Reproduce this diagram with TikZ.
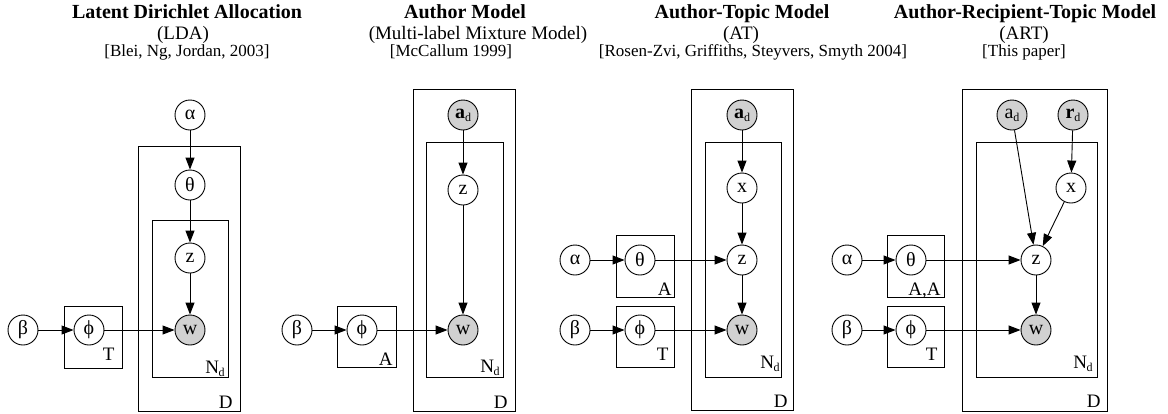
\documentclass[tikz,border=0pt]{standalone}
\usepackage{fontspec}
\setmainfont{Liberation Serif}
\usetikzlibrary{arrows.meta}
\newcommand{\subd}{\raisebox{-3pt}{\fontsize{12}{12}\selectfont d}}

\begin{document}
\begin{tikzpicture}[x=1pt,y=-1pt,line width=0.9pt,
    var/.style={circle,draw,minimum size=30pt,inner sep=0pt,font=\fontsize{20}{20}\selectfont},
    obs/.style={var,fill=black!18},
    lab/.style={anchor=base east,inner sep=0pt,font=\fontsize{19}{19}\selectfont},
    edge/.style={-{Triangle[length=12pt,width=9pt]}},
    headline/.style={anchor=base,inner sep=0pt,font=\bfseries\fontsize{20}{20}\selectfont},
    abbrev/.style={anchor=base,inner sep=0pt,font=\fontsize{19}{19}\selectfont},
    cite/.style={anchor=base,inner sep=0pt,font=\fontsize{17}{17}\selectfont}]
  \useasboundingbox (0,0) rectangle (1168,413);

  % titles
  \node[headline] at (187,18) {Latent Dirichlet Allocation};
  \node[abbrev] at (183,39) {(LDA)};
  \node[cite] at (187,56) {[Blei, Ng, Jordan, 2003]};
  \node[headline] at (465,18) {Author Model};
  \node[abbrev] at (478,39) {(Multi-label Mixture Model)};
  \node[cite] at (451,56) {[McCallum 1999]};
  \node[headline] at (742,18) {Author-Topic Model};
  \node[abbrev] at (741,39) {(AT)};
  \node[cite] at (753,56) {[Rosen-Zvi, Griffiths, Steyvers, Smyth 2004]};
  \node[headline] at (1025,18) {Author-Recipient-Topic Model};
  \node[abbrev] at (1024,39) {(ART)};
  \node[cite] at (1024,56) {[This paper]};

  % LDA
  \draw (64,306) rectangle (122,368);
  \draw (138,146) rectangle (240,411.5);
  \draw (152,220) rectangle (228,377);
  \node[lab] at (115,360) {T};
  \node[lab] at (225,373) {N\kern-0.5pt\subd};
  \node[lab] at (233,408) {D};
  \node[var] (lalpha) at (190,115) {α};
  \node[var] (ltheta) at (190,185) {θ};
  \node[var] (lz) at (190,258) {z};
  \node[obs] (lw) at (190,330) {w};
  \node[var] (lbeta) at (23,330) {β};
  \node[var] (lphi) at (89,330) {ϕ};
  \draw[edge] (lalpha) -- (ltheta);
  \draw[edge] (ltheta) -- (lz);
  \draw[edge] (lz) -- (lw);
  \draw[edge] (lbeta) -- (lphi);
  \draw[edge] (lphi) -- (lw);

  % Author Model
  \draw (337,306) rectangle (396,367);
  \draw (413,89) rectangle (515,411);
  \draw (426,142) rectangle (503,377);
  \node[lab] at (393,365) {A};
  \node[lab] at (500,372) {N\kern-0.5pt\subd};
  \node[lab] at (508,408) {D};
  \node[obs] (mad) at (463,115) {\textbf{a}\subd};
  \node[var] (mz) at (463,190) {z};
  \node[obs] (mw) at (463,330) {w};
  \node[var] (mbeta) at (297,330) {β};
  \node[var] (mphi) at (362,330) {ϕ};
  \draw[edge] (mad) -- (mz);
  \draw[edge] (mz) -- (mw);
  \draw[edge] (mbeta) -- (mphi);
  \draw[edge] (mphi) -- (mw);

  % AT
  \draw (616,235) rectangle (674,297);
  \draw (616,306) rectangle (674,367);
  \draw (691,89) rectangle (793,410);
  \draw (705,142) rectangle (781,377);
  \node[lab] at (672,295) {A};
  \node[lab] at (669,360) {T};
  \node[lab] at (780,368) {N\kern-0.5pt\subd};
  \node[lab] at (788,407) {D};
  \node[obs] (tad) at (742,115) {\textbf{a}\subd};
  \node[var] (tx) at (742,188) {x};
  \node[var] (tz) at (742,260) {z};
  \node[obs] (tw) at (742,330) {w};
  \node[var] (talpha) at (575,260) {α};
  \node[var] (ttheta) at (640,260) {θ};
  \node[var] (tbeta) at (575,330) {β};
  \node[var] (tphi) at (640,330) {ϕ};
  \draw[edge] (tad) -- (tx);
  \draw[edge] (tx) -- (tz);
  \draw[edge] (tz) -- (tw);
  \draw[edge] (talpha) -- (ttheta);
  \draw[edge] (ttheta) -- (tz);
  \draw[edge] (tbeta) -- (tphi);
  \draw[edge] (tphi) -- (tw);

  % ART
  \draw (887,235) rectangle (944,297);
  \draw (887,306) rectangle (944,367);
  \draw (962,89) rectangle (1107,411);
  \draw (976,142) rectangle (1097,377);
  \node[lab] at (941,295) {A,A};
  \node[lab] at (938,360) {T};
  \node[lab] at (1093,368) {N\kern-0.5pt\subd};
  \node[lab] at (1101,407) {D};
  \node[obs] (rad) at (1012,115) {a\subd};
  \node[obs] (rrd) at (1073,115) {\textbf{r}\subd};
  \node[var] (rx) at (1071,188) {x};
  \node[var] (rz) at (1036,260) {z};
  \node[obs] (rw) at (1036,330) {w};
  \node[var] (ralpha) at (847,260) {α};
  \node[var] (rtheta) at (911,260) {θ};
  \node[var] (rbeta) at (847,330) {β};
  \node[var] (rphi) at (911,330) {ϕ};
  \draw[edge] (rad) -- (rz);
  \draw[edge] (rrd) -- (rx);
  \draw[edge] (rx) -- (rz);
  \draw[edge] (rz) -- (rw);
  \draw[edge] (ralpha) -- (rtheta);
  \draw[edge] (rtheta) -- (rz);
  \draw[edge] (rbeta) -- (rphi);
  \draw[edge] (rphi) -- (rw);
\end{tikzpicture}
\end{document}
